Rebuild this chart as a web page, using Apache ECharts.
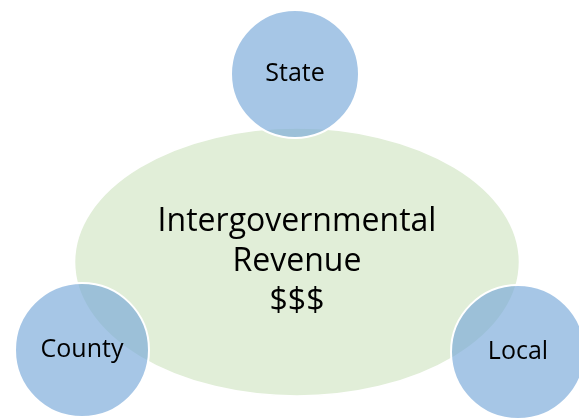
<!DOCTYPE html>
<html lang="en">
<head>
    <meta charset="UTF-8">
    <title>Intergovernmental Revenue</title>
    <style>
        html, body { margin: 0; padding: 0; background: #fff; }
    </style>
</head>
<body>

<div id="main" style="width: 579px; height: 420px;"></div>

<script src="https://cdn.jsdelivr.net/npm/echarts@6/dist/echarts.min.js"></script>
<script>
    // centre shape
    var hubLines = ['Intergovernmental', 'Revenue', '$$$'];
    var hubPos = [297, 262];
    var hubSize = [446, 268];

    // satellite circles
    var sourceNames = ['State', 'County', 'Local'];
    var sourceX = [295, 82, 518];
    var sourceY = [74, 350, 352];
    var sourceSize = [128, 134, 134];

    var myChart = echarts.init(document.getElementById('main'));

    var sources = [];
    for (var i = 0; i < sourceNames.length; i++) {
        sources.push({
            name: sourceNames[i],
            value: [sourceX[i], sourceY[i]],
            symbolSize: sourceSize[i]
        });
    }

    var option = {
        animation: false,
        grid: { left: 0, right: 0, top: 0, bottom: 0 },
        xAxis: { type: 'value', min: 0, max: 579, show: false },
        yAxis: { type: 'value', min: 0, max: 420, inverse: true, show: false },
        series: [
            {
                name: 'hub',
                type: 'scatter',
                symbol: 'circle',
                data: [{ name: 'hub', value: hubPos, symbolSize: hubSize }],
                itemStyle: {
                    color: '#e1eed8',
                    borderColor: '#ffffff',
                    borderWidth: 2,
                    opacity: 1
                },
                label: {
                    show: true,
                    position: 'inside',
                    // function formatter so "$$$" is not eaten by string templates
                    formatter: function () {
                        return hubLines.join('\n');
                    },
                    color: '#000',
                    fontFamily: 'Open Sans',
                    fontSize: 32,
                    lineHeight: 40
                },
                emphasis: { disabled: true },
                z: 1
            },
            {
                name: 'sources',
                type: 'scatter',
                symbol: 'circle',
                data: sources,
                itemStyle: {
                    color: 'rgba(118,168,217,0.65)',
                    borderColor: '#ffffff',
                    borderWidth: 2,
                    opacity: 1
                },
                label: {
                    show: true,
                    position: 'inside',
                    formatter: function (p) {
                        return p.name;
                    },
                    color: '#000',
                    fontFamily: 'Open Sans',
                    fontSize: 25
                },
                emphasis: { disabled: true },
                z: 2
            }
        ]
    };
    myChart.setOption(option);
</script>
</body>
</html>
